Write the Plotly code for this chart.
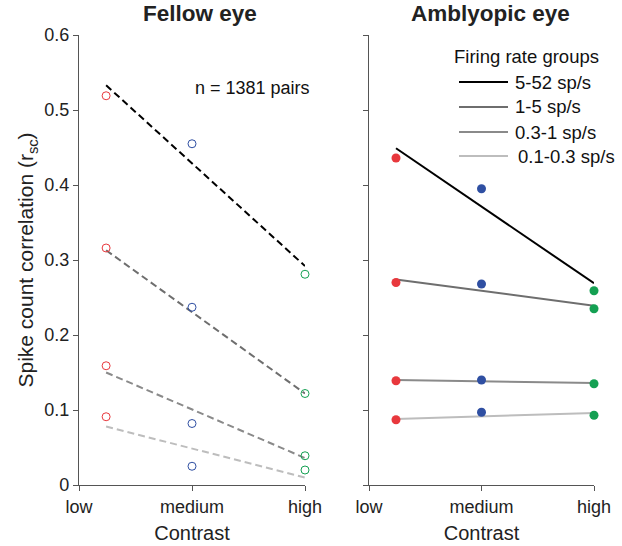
import plotly.graph_objects as go

# firing rate groups, highest first
groups = ["5-52 sp/s", "1-5 sp/s", "0.3-1 sp/s", "0.1-0.3 sp/s"]
group_colors = ["#000000", "#6e6e6e", "#8a8a8a", "#bdbdbd"]

contrast_labels = ["low", "medium", "high"]
contrast_ticks = [0, 1, 2]
# where each contrast condition is plotted
contrast_pos = [0.24, 1, 2]
contrast_colors = ["#e8383d", "#2f4fa2", "#14a052"]

# fellow eye, mean r_sc per group
fellow_low = [0.519, 0.316, 0.159, 0.091]
fellow_med = [0.455, 0.237, 0.082, 0.025]
fellow_high = [0.281, 0.122, 0.039, 0.020]
fellow_fit_start = [0.533, 0.313, 0.150, 0.078]
fellow_fit_end = [0.292, 0.122, 0.036, 0.010]

# amblyopic eye
amb_low = [0.436, 0.270, 0.139, 0.087]
amb_med = [0.395, 0.268, 0.140, 0.097]
amb_high = [0.259, 0.235, 0.135, 0.093]
amb_fit_start = [0.449, 0.274, 0.140, 0.088]
amb_fit_end = [0.269, 0.239, 0.136, 0.096]

y_ticks = [0, 0.1, 0.2, 0.3, 0.4, 0.5, 0.6]
y_ticklabels = ["0", "0.1", "0.2", "0.3", "0.4", "0.5", "0.6"]

FONT = "Liberation Sans, Arial, sans-serif"
W, H = 622, 546


def px(x):
    return x / W


def py(y):
    return 1 - y / H


fig = go.Figure()

fit_x = [contrast_pos[0], contrast_pos[-1]]

# fitted lines
for i in range(len(groups)):
    fig.add_trace(go.Scatter(
        x=fit_x, y=[fellow_fit_start[i], fellow_fit_end[i]],
        mode="lines", line=dict(color=group_colors[i], width=2, dash="7px,4px"),
        xaxis="x", yaxis="y", showlegend=False, hoverinfo="skip"))
    fig.add_trace(go.Scatter(
        x=fit_x, y=[amb_fit_start[i], amb_fit_end[i]],
        mode="lines", line=dict(color=group_colors[i], width=2),
        xaxis="x2", yaxis="y2", showlegend=False, hoverinfo="skip"))

# data points, coloured by contrast
for vals, pos, col in zip([fellow_low, fellow_med, fellow_high], contrast_pos, contrast_colors):
    fig.add_trace(go.Scatter(
        x=[pos] * len(vals), y=vals, mode="markers", cliponaxis=False,
        marker=dict(symbol="circle-open", size=8, color=col, line=dict(width=1)),
        xaxis="x", yaxis="y", showlegend=False))

for vals, pos, col in zip([amb_low, amb_med, amb_high], contrast_pos, contrast_colors):
    fig.add_trace(go.Scatter(
        x=[pos] * len(vals), y=vals, mode="markers", cliponaxis=False,
        marker=dict(symbol="circle", size=9, color=col),
        xaxis="x2", yaxis="y2", showlegend=False))

axis_common = dict(
    showline=True, linecolor="#555555", linewidth=1.3,
    ticks="outside", ticklen=5, tickcolor="#555555", tickwidth=1.3,
    showgrid=False, zeroline=False,
    tickfont=dict(family=FONT, size=18, color="#222222"),
)

x_style = dict(axis_common, range=[0, 2], tickvals=contrast_ticks, ticktext=contrast_labels,
               title=dict(text="Contrast", standoff=10, font=dict(family=FONT, size=20, color="#222222")))

# legend drawn by hand so the lines match the original length
shapes = []
annotations = [
    dict(text="<b>Fellow eye</b>", x=px(200), y=py(13), xref="paper", yref="paper",
         xanchor="center", yanchor="middle", showarrow=False,
         font=dict(family=FONT, size=22.5, color="#222222")),
    dict(text="<b>Amblyopic eye</b>", x=px(490), y=py(13), xref="paper", yref="paper",
         xanchor="center", yanchor="middle", showarrow=False,
         font=dict(family=FONT, size=22.5, color="#222222")),
    dict(text="n = 1381 pairs", x=px(193), y=py(88), xref="paper", yref="paper",
         xanchor="left", yanchor="middle", showarrow=False,
         font=dict(family=FONT, size=18, color="#111111")),
    dict(text="Firing rate groups", x=px(452), y=py(57), xref="paper", yref="paper",
         xanchor="left", yanchor="middle", showarrow=False,
         font=dict(family=FONT, size=18.5, color="#111111")),
]
legend_rows = [82, 107, 132, 156]
for i, g in enumerate(groups):
    yy = py(legend_rows[i])
    shapes.append(dict(type="line", xref="paper", yref="paper", x0=px(459), x1=px(508),
                       y0=yy, y1=yy, line=dict(color=group_colors[i], width=2)))
    annotations.append(dict(text=g, x=px(513 if i < 3 else 516), y=yy, xref="paper", yref="paper",
                            xanchor="left", yanchor="middle", showarrow=False,
                            font=dict(family=FONT, size=18.5, color="#111111")))

fig.update_layout(
    width=W, height=H,
    margin=dict(l=0, r=0, t=0, b=0, autoexpand=False),
    paper_bgcolor="white", plot_bgcolor="white",
    showlegend=False,
    xaxis=dict(x_style, domain=[px(79), px(305)], anchor="y"),
    xaxis2=dict(x_style, domain=[px(369), px(594)], anchor="y2"),
    yaxis=dict(axis_common, domain=[py(485), py(35)], range=[0, 0.6], anchor="x",
               tickvals=y_ticks, ticktext=y_ticklabels,
               title=dict(text="Spike count correlation (r<sub>sc</sub>)", standoff=4,
                          font=dict(family=FONT, size=21, color="#222222"))),
    yaxis2=dict(axis_common, domain=[py(485), py(35)], range=[0, 0.6], anchor="x2",
                tickvals=y_ticks, showticklabels=False),
    shapes=shapes,
    annotations=annotations,
)

# drop the default page margin so the figure fills the window
fig.write_html("out.html", config={"displayModeBar": False},
               post_script="document.body.style.margin = '0';")
